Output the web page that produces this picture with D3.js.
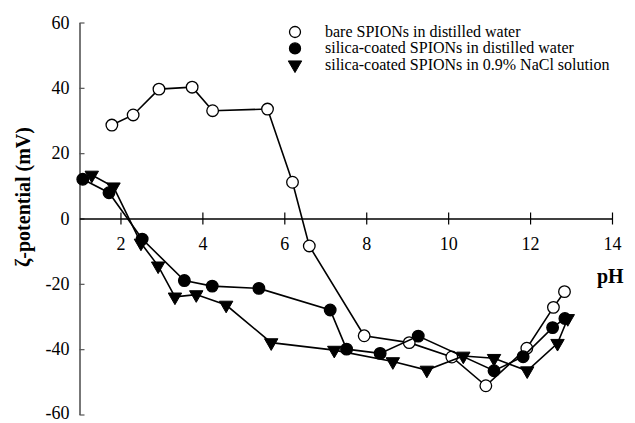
<!DOCTYPE html>
<html>
<head>
<meta charset="utf-8">
<script src="https://cdn.jsdelivr.net/npm/d3@7"></script>
<style>
  html, body { margin: 0; padding: 0; background: #fff; }
  svg { display: block; }
  svg text { font-family: "Liberation Serif", "Times New Roman", "DejaVu Serif", serif !important; fill: #000; }
</style>
</head>
<body>
<svg id="chart" width="635" height="423"></svg>
<script>
// ---- data ----
const seriesNames = [
  "bare SPIONs in distilled water",
  "silica-coated SPIONs in distilled water",
  "silica-coated SPIONs in 0.9% NaCl solution"
];
const pH_bare = [1.79, 2.31, 2.94, 3.75, 4.25, 5.59, 6.20, 6.61, 7.95, 9.05, 10.09, 10.92, 11.92, 12.57, 12.84];
const zeta_bare = [28.6, 31.7, 39.6, 40.2, 33.0, 33.5, 11.1, -8.4, -35.9, -38.0, -42.4, -51.2, -39.7, -27.2, -22.4];

const pH_silicaWater = [1.08, 1.72, 2.53, 3.56, 4.24, 5.38, 7.12, 7.52, 8.34, 9.27, 11.12, 11.83, 12.55, 12.85];
const zeta_silicaWater = [12.0, 7.9, -6.3, -19.0, -20.7, -21.4, -28.0, -40.0, -41.3, -36.0, -46.6, -42.3, -33.4, -30.6];

const pH_silicaNaCl = [1.30, 1.83, 2.50, 2.92, 3.33, 3.85, 4.58, 5.68, 7.22, 8.65, 9.48, 10.37, 11.12, 11.93, 12.67, 12.92];
const zeta_silicaNaCl = [13.3, 9.7, -7.5, -14.5, -24.0, -23.3, -26.5, -38.0, -40.3, -43.8, -46.4, -42.1, -42.8, -46.6, -38.2, -30.6];

const xTicks = [2, 4, 6, 8, 10, 12, 14];
const yTicks = [-60, -40, -20, 0, 20, 40, 60];
const xDomain = [1, 14];
const yDomain = [-60, 60];

// ---- chart ----
const FONT = "'Liberation Serif', 'Times New Roman', serif";
const fmt = d => String(d);   // plain hyphen-minus like the reference
const svg = d3.select("#chart");
const x = d3.scaleLinear().domain(xDomain).range([79.5, 612]);
const y = d3.scaleLinear().domain(yDomain).range([414.5, 22.5]);

// y axis (left, gray, ticks inward)
const yAxis = svg.append("g")
  .attr("transform", `translate(${x(xDomain[0])},0)`)
  .call(d3.axisLeft(y).tickValues(yTicks).tickSizeInner(-5).tickSizeOuter(0).tickPadding(10).tickFormat(fmt));
yAxis.attr("font-family", null);
yAxis.select(".domain").attr("stroke", "#555").attr("stroke-width", 1.6);
yAxis.selectAll(".tick line").attr("stroke", "#555").attr("stroke-width", 1.2);
yAxis.selectAll(".tick text").attr("font-size", 18).style("font-family", FONT).attr("fill", "#000")
  .attr("dy", d => d === yDomain[0] ? "0.2em" : "0.32em");

// x axis at zeta = 0, ticks crossing
const xAxis = svg.append("g")
  .attr("transform", `translate(0,${y(0)})`)
  .call(d3.axisBottom(x).tickValues(xTicks).tickSizeInner(6).tickSizeOuter(0).tickPadding(0).tickFormat(fmt));
xAxis.attr("font-family", null);
xAxis.select(".domain").attr("stroke", "#000").attr("stroke-width", 1.4);
xAxis.selectAll(".tick line").attr("stroke", "#000").attr("stroke-width", 1.2).attr("y1", -6).attr("y2", 6);
xAxis.selectAll(".tick text").attr("font-size", 18).style("font-family", FONT)
  .attr("fill", "#000").attr("y", 31.5).attr("dy", 0);

// axis titles
svg.append("text")
  .attr("transform", `translate(30,197) rotate(-90)`)
  .attr("text-anchor", "middle")
  .attr("font-weight", "bold")
  .attr("font-size", 20)
  .style("font-family", FONT)
  .text("ζ-potential (mV)");

svg.append("text")
  .attr("x", 597).attr("y", 283)
  .attr("font-weight", "bold")
  .attr("font-size", 20)
  .style("font-family", FONT)
  .text("pH");

// series
const lineGen = d3.line().x(d => x(d[0])).y(d => y(d[1]));
const triPath = d3.symbol(d3.symbolTriangle, 78)();

function drawSeries(px, py, kind) {
  const pts = px.map((v, i) => [v, py[i]]);
  const g = svg.append("g");
  g.append("path").datum(pts).attr("d", lineGen)
    .attr("fill", "none").attr("stroke", "#000").attr("stroke-width", 1.6);
  if (kind === "tri") {
    g.selectAll("path.m").data(pts).enter().append("path").attr("class", "m")
      .attr("d", triPath)
      .attr("transform", d => `translate(${x(d[0])},${y(d[1])}) rotate(180)`)
      .attr("fill", "#000").attr("stroke", "#000").attr("stroke-width", 1);
  } else {
    g.selectAll("circle").data(pts).enter().append("circle")
      .attr("cx", d => x(d[0])).attr("cy", d => y(d[1])).attr("r", 5.8)
      .attr("fill", kind === "open" ? "#fff" : "#000")
      .attr("stroke", "#000").attr("stroke-width", 1.3);
  }
}
drawSeries(pH_bare, zeta_bare, "open");
drawSeries(pH_silicaWater, zeta_silicaWater, "filled");
drawSeries(pH_silicaNaCl, zeta_silicaNaCl, "tri");

// legend
const legendKinds = ["open", "filled", "tri"];
const leg = svg.append("g");
seriesNames.forEach((name, i) => {
  const cy = 32 + i * 16.4;
  if (legendKinds[i] === "tri") {
    leg.append("path").attr("d", triPath)
      .attr("transform", `translate(295,${cy}) rotate(180)`)
      .attr("fill", "#000").attr("stroke", "#000").attr("stroke-width", 1);
  } else {
    leg.append("circle").attr("cx", 295).attr("cy", cy).attr("r", 5.5)
      .attr("fill", legendKinds[i] === "open" ? "#fff" : "#000")
      .attr("stroke", "#000").attr("stroke-width", 1.3);
  }
  leg.append("text").attr("x", 325).attr("y", cy + 5)
    .attr("font-size", 16).style("font-family", FONT).text(name);
});
</script>
</body>
</html>
